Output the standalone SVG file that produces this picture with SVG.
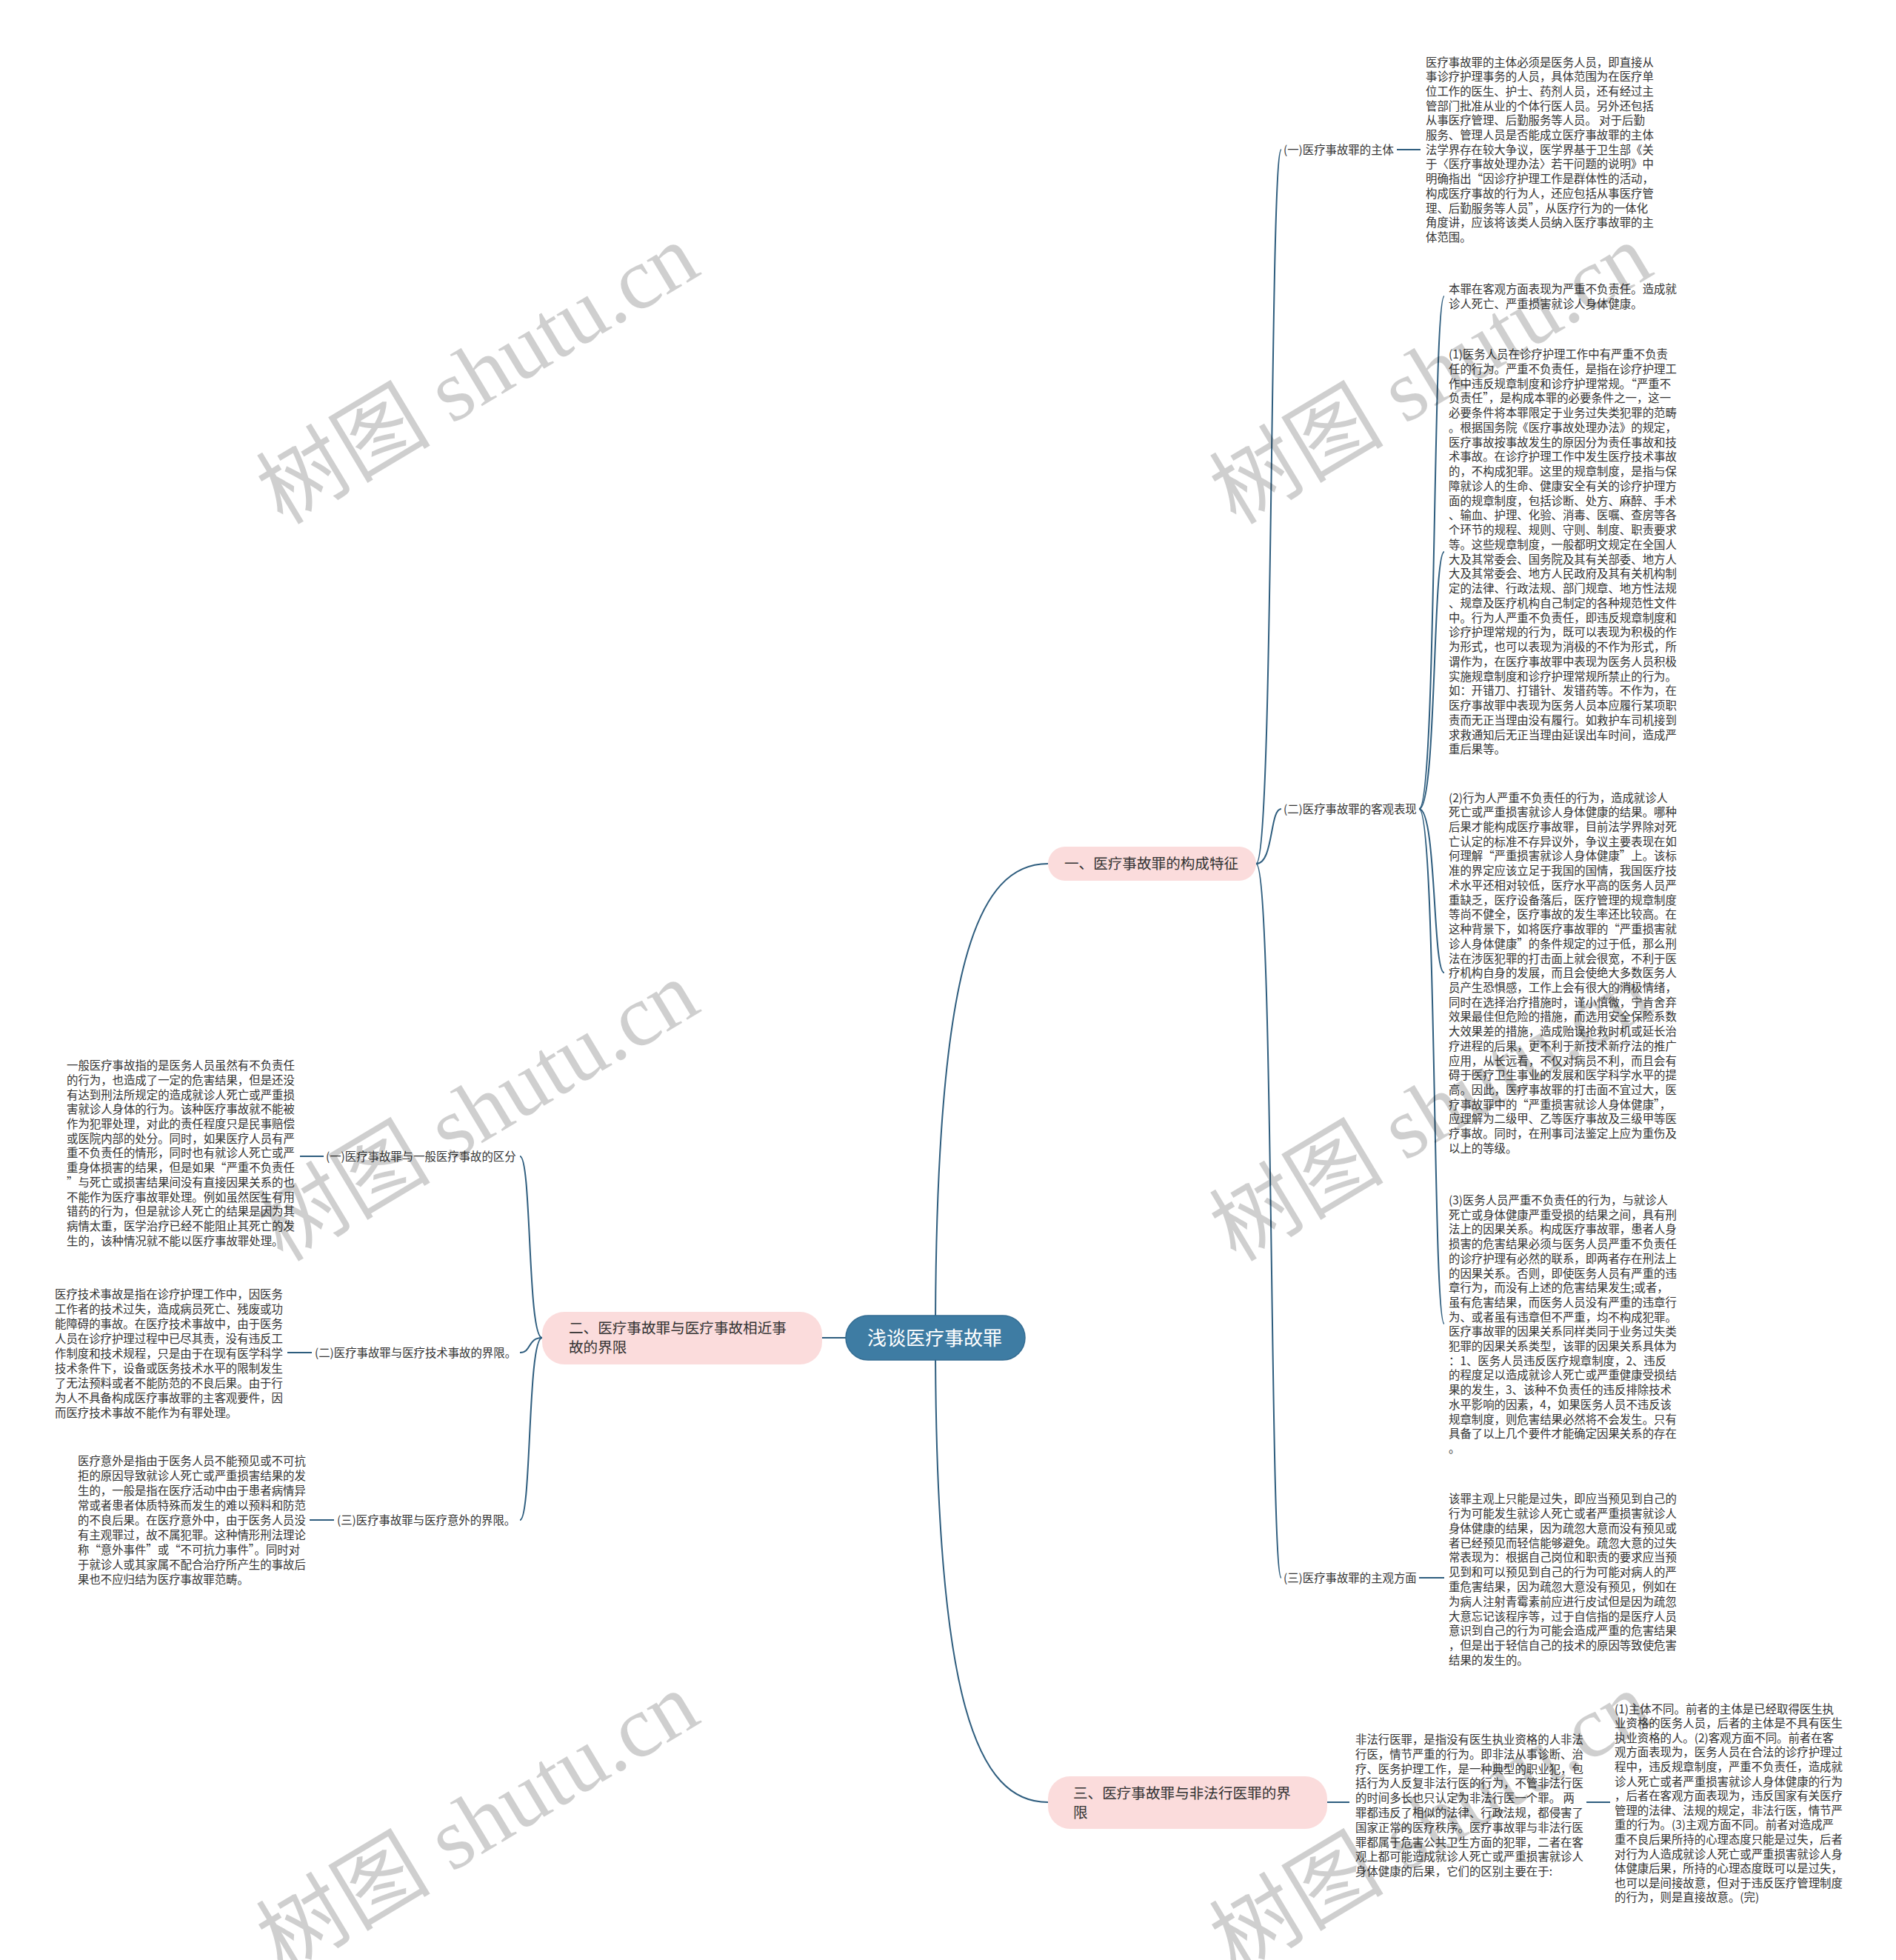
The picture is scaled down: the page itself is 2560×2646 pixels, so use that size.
<svg xmlns="http://www.w3.org/2000/svg" width="2560" height="2646" viewBox="0 0 2560 2646">
<style>
.t{font-family:"Noto Sans CJK SC","Liberation Sans",sans-serif;font-size:15.4px;fill:#333}
.n{font-family:"Noto Sans CJK SC","Liberation Sans",sans-serif;font-size:19.6px;fill:#333}
.c{font-family:"Noto Sans CJK SC","Liberation Sans",sans-serif;font-size:26px;fill:#fff}
.pk{fill:#fbdcdc}
.conn path{fill:none;stroke:#2e5d7e;stroke-width:2}
.wm{font-family:"Liberation Serif","Noto Sans CJK SC",serif;font-size:118px;fill:#000;fill-opacity:0.19;text-anchor:middle}
</style>
<rect width="2560" height="2646" fill="#fff"/>
<g class="conn" id="connectors">
<path d="M1263,1806 C1263,1300 1320,1166 1415,1166"/>
<path d="M1263,1806 C1263,2300 1320,2433 1415,2433"/>
<path d="M1142,1806 H1110"/>
<path d="M1696,1166 C1720,1166 1714,202 1730,202"/>
<path d="M1696,1166 C1720,1166 1714,1092 1730,1092"/>
<path d="M1696,1166 C1720,1166 1714,2130 1730,2130"/>
<path d="M1886,202 H1918"/>
<path d="M1916,1092 C1940,1092 1934,400 1950,400"/>
<path d="M1916,1092 C1940,1092 1934,745 1950,745"/>
<path d="M1916,1092 C1940,1092 1934,1313 1950,1313"/>
<path d="M1916,1092 C1940,1092 1934,1787 1950,1787"/>
<path d="M1916,2130 H1950"/>
<path d="M1792,2433 H1822"/>
<path d="M2142,2433 H2174"/>
<path d="M732,1806 C712,1806 718,1561 702,1561"/>
<path d="M732,1806 C712,1806 718,1826 702,1826"/>
<path d="M732,1806 C712,1806 718,2052 702,2052"/>
<path d="M437,1561 H405"/>
<path d="M421,1826 H388"/>
<path d="M451,2052 H418"/>
</g>
<g id="root">
<rect x="1142" y="1776" width="242" height="60" rx="30" fill="#3e7ca3" stroke="#336c92" stroke-width="1.5"/>
<text class="c" x="1171" y="1816">浅谈医疗事故罪</text>
</g>
<g id="n1">
<rect class="pk" x="1415" y="1143" width="281" height="46" rx="23"/>
<text class="n" x="1437" y="1173">一、医疗事故罪的构成特征</text>
</g>
<g id="n2">
<rect class="pk" x="732" y="1771" width="378" height="71" rx="30"/>
<text class="n" x="768" y="1800">二、医疗事故罪与医疗事故相近事<tspan x="768" dy="26">故的界限</tspan></text>
</g>
<g id="n3">
<rect class="pk" x="1415" y="2398" width="377" height="71" rx="30"/>
<text class="n" x="1449" y="2428">三、医疗事故罪与非法行医罪的界<tspan x="1449" dy="26">限</tspan></text>
</g>
<g id="l1a"><text class="t" x="1733" y="208">(一)医疗事故罪的主体</text></g>
<g id="l1b"><text class="t" x="1733" y="1098">(二)医疗事故罪的客观表现</text></g>
<g id="l1c"><text class="t" x="1733" y="2136">(三)医疗事故罪的主观方面</text></g>
<g id="l2a"><text class="t" x="440" y="1567">(一)医疗事故罪与一般医疗事故的区分</text></g>
<g id="l2b"><text class="t" x="425" y="1832">(二)医疗事故罪与医疗技术事故的界限。</text></g>
<g id="l2c"><text class="t" x="455" y="2058">(三)医疗事故罪与医疗意外的界限。</text></g>
<g id="bA"><text class="t" x="1925" y="89.5"><tspan x="1925" dy="0">医疗事故罪的主体必须是医务人员，即直接从</tspan><tspan x="1925" dy="19.7">事诊疗护理事务的人员，具体范围为在医疗单</tspan><tspan x="1925" dy="19.7">位工作的医生、护士、药剂人员，还有经过主</tspan><tspan x="1925" dy="19.7">管部门批准从业的个体行医人员。另外还包括</tspan><tspan x="1925" dy="19.7">从事医疗管理、后勤服务等人员。 对于后勤</tspan><tspan x="1925" dy="19.7">服务、管理人员是否能成立医疗事故罪的主体</tspan><tspan x="1925" dy="19.7">法学界存在较大争议，医学界基于卫生部《关</tspan><tspan x="1925" dy="19.7">于〈医疗事故处理办法〉若干问题的说明》中</tspan><tspan x="1925" dy="19.7">明确指出“因诊疗护理工作是群体性的活动，</tspan><tspan x="1925" dy="19.7">构成医疗事故的行为人，还应包括从事医疗管</tspan><tspan x="1925" dy="19.7">理、后勤服务等人员”，从医疗行为的一体化</tspan><tspan x="1925" dy="19.7">角度讲，应该将该类人员纳入医疗事故罪的主</tspan><tspan x="1925" dy="19.7">体范围。</tspan></text></g>
<g id="bB0"><text class="t" x="1956" y="396"><tspan x="1956" dy="0">本罪在客观方面表现为严重不负责任。造成就</tspan><tspan x="1956" dy="19.7">诊人死亡、严重损害就诊人身体健康。</tspan></text></g>
<g id="bB1"><text class="t" x="1956" y="484"><tspan x="1956" dy="0">(1)医务人员在诊疗护理工作中有严重不负责</tspan><tspan x="1956" dy="19.75">任的行为。严重不负责任，是指在诊疗护理工</tspan><tspan x="1956" dy="19.75">作中违反规章制度和诊疗护理常规。“严重不</tspan><tspan x="1956" dy="19.75">负责任”，是构成本罪的必要条件之一，这一</tspan><tspan x="1956" dy="19.75">必要条件将本罪限定于业务过失类犯罪的范畴</tspan><tspan x="1956" dy="19.75">。根据国务院《医疗事故处理办法》的规定，</tspan><tspan x="1956" dy="19.75">医疗事故按事故发生的原因分为责任事故和技</tspan><tspan x="1956" dy="19.75">术事故。在诊疗护理工作中发生医疗技术事故</tspan><tspan x="1956" dy="19.75">的，不构成犯罪。这里的规章制度，是指与保</tspan><tspan x="1956" dy="19.75">障就诊人的生命、健康安全有关的诊疗护理方</tspan><tspan x="1956" dy="19.75">面的规章制度，包括诊断、处方、麻醉、手术</tspan><tspan x="1956" dy="19.75">、输血、护理、化验、消毒、医嘱、查房等各</tspan><tspan x="1956" dy="19.75">个环节的规程、规则、守则、制度、职责要求</tspan><tspan x="1956" dy="19.75">等。这些规章制度，一般都明文规定在全国人</tspan><tspan x="1956" dy="19.75">大及其常委会、国务院及其有关部委、地方人</tspan><tspan x="1956" dy="19.75">大及其常委会、地方人民政府及其有关机构制</tspan><tspan x="1956" dy="19.75">定的法律、行政法规、部门规章、地方性法规</tspan><tspan x="1956" dy="19.75">、规章及医疗机构自己制定的各种规范性文件</tspan><tspan x="1956" dy="19.75">中。行为人严重不负责任，即违反规章制度和</tspan><tspan x="1956" dy="19.75">诊疗护理常规的行为，既可以表现为积极的作</tspan><tspan x="1956" dy="19.75">为形式，也可以表现为消极的不作为形式，所</tspan><tspan x="1956" dy="19.75">谓作为，在医疗事故罪中表现为医务人员积极</tspan><tspan x="1956" dy="19.75">实施规章制度和诊疗护理常规所禁止的行为。</tspan><tspan x="1956" dy="19.75">如：开错刀、打错针、发错药等。不作为，在</tspan><tspan x="1956" dy="19.75">医疗事故罪中表现为医务人员本应履行某项职</tspan><tspan x="1956" dy="19.75">责而无正当理由没有履行。如救护车司机接到</tspan><tspan x="1956" dy="19.75">求救通知后无正当理由延误出车时间，造成严</tspan><tspan x="1956" dy="19.75">重后果等。</tspan></text></g>
<g id="bB2"><text class="t" x="1956" y="1082.6"><tspan x="1956" dy="0">(2)行为人严重不负责任的行为，造成就诊人</tspan><tspan x="1956" dy="19.72">死亡或严重损害就诊人身体健康的结果。哪种</tspan><tspan x="1956" dy="19.72">后果才能构成医疗事故罪，目前法学界除对死</tspan><tspan x="1956" dy="19.72">亡认定的标准不存异议外，争议主要表现在如</tspan><tspan x="1956" dy="19.72">何理解“严重损害就诊人身体健康”上。该标</tspan><tspan x="1956" dy="19.72">准的界定应该立足于我国的国情，我国医疗技</tspan><tspan x="1956" dy="19.72">术水平还相对较低，医疗水平高的医务人员严</tspan><tspan x="1956" dy="19.72">重缺乏，医疗设备落后，医疗管理的规章制度</tspan><tspan x="1956" dy="19.72">等尚不健全，医疗事故的发生率还比较高。在</tspan><tspan x="1956" dy="19.72">这种背景下，如将医疗事故罪的“严重损害就</tspan><tspan x="1956" dy="19.72">诊人身体健康”的条件规定的过于低，那么刑</tspan><tspan x="1956" dy="19.72">法在涉医犯罪的打击面上就会很宽，不利于医</tspan><tspan x="1956" dy="19.72">疗机构自身的发展，而且会使绝大多数医务人</tspan><tspan x="1956" dy="19.72">员产生恐惧感，工作上会有很大的消极情绪，</tspan><tspan x="1956" dy="19.72">同时在选择治疗措施时，谨小慎微，宁肯舍弃</tspan><tspan x="1956" dy="19.72">效果最佳但危险的措施，而选用安全保险系数</tspan><tspan x="1956" dy="19.72">大效果差的措施，造成贻误抢救时机或延长治</tspan><tspan x="1956" dy="19.72">疗进程的后果，更不利于新技术新疗法的推广</tspan><tspan x="1956" dy="19.72">应用，从长远看，不仅对病员不利，而且会有</tspan><tspan x="1956" dy="19.72">碍于医疗卫生事业的发展和医学科学水平的提</tspan><tspan x="1956" dy="19.72">高。因此，医疗事故罪的打击面不宜过大，医</tspan><tspan x="1956" dy="19.72">疗事故罪中的“严重损害就诊人身体健康”，</tspan><tspan x="1956" dy="19.72">应理解为二级甲、乙等医疗事故及三级甲等医</tspan><tspan x="1956" dy="19.72">疗事故。同时，在刑事司法鉴定上应为重伤及</tspan><tspan x="1956" dy="19.72">以上的等级。</tspan></text></g>
<g id="bB3"><text class="t" x="1956" y="1626"><tspan x="1956" dy="0">(3)医务人员严重不负责任的行为，与就诊人</tspan><tspan x="1956" dy="19.7">死亡或身体健康严重受损的结果之间，具有刑</tspan><tspan x="1956" dy="19.7">法上的因果关系。构成医疗事故罪，患者人身</tspan><tspan x="1956" dy="19.7">损害的危害结果必须与医务人员严重不负责任</tspan><tspan x="1956" dy="19.7">的诊疗护理有必然的联系，即两者存在刑法上</tspan><tspan x="1956" dy="19.7">的因果关系。否则，即使医务人员有严重的违</tspan><tspan x="1956" dy="19.7">章行为，而没有上述的危害结果发生;或者，</tspan><tspan x="1956" dy="19.7">虽有危害结果，而医务人员没有严重的违章行</tspan><tspan x="1956" dy="19.7">为、或者虽有违章但不严重，均不构成犯罪。</tspan><tspan x="1956" dy="19.7">医疗事故罪的因果关系同样类同于业务过失类</tspan><tspan x="1956" dy="19.7">犯罪的因果关系类型，该罪的因果关系具体为</tspan><tspan x="1956" dy="19.7">：1、医务人员违反医疗规章制度，2、违反</tspan><tspan x="1956" dy="19.7">的程度足以造成就诊人死亡或严重健康受损结</tspan><tspan x="1956" dy="19.7">果的发生，3、该种不负责任的违反排除技术</tspan><tspan x="1956" dy="19.7">水平影响的因素，4，如果医务人员不违反该</tspan><tspan x="1956" dy="19.7">规章制度，则危害结果必然将不会发生。只有</tspan><tspan x="1956" dy="19.7">具备了以上几个要件才能确定因果关系的存在</tspan><tspan x="1956" dy="19.7">。</tspan></text></g>
<g id="bC"><text class="t" x="1956" y="2029.2"><tspan x="1956" dy="0">该罪主观上只能是过失，即应当预见到自己的</tspan><tspan x="1956" dy="19.8">行为可能发生就诊人死亡或者严重损害就诊人</tspan><tspan x="1956" dy="19.8">身体健康的结果，因为疏忽大意而没有预见或</tspan><tspan x="1956" dy="19.8">者已经预见而轻信能够避免。疏忽大意的过失</tspan><tspan x="1956" dy="19.8">常表现为：根据自己岗位和职责的要求应当预</tspan><tspan x="1956" dy="19.8">见到和可以预见到自己的行为可能对病人的严</tspan><tspan x="1956" dy="19.8">重危害结果，因为疏忽大意没有预见，例如在</tspan><tspan x="1956" dy="19.8">为病人注射青霉素前应进行皮试但是因为疏忽</tspan><tspan x="1956" dy="19.8">大意忘记该程序等，过于自信指的是医疗人员</tspan><tspan x="1956" dy="19.8">意识到自己的行为可能会造成严重的危害结果</tspan><tspan x="1956" dy="19.8">，但是出于轻信自己的技术的原因等致使危害</tspan><tspan x="1956" dy="19.8">结果的发生的。</tspan></text></g>
<g id="bD1"><text class="t" x="1830" y="2354"><tspan x="1830" dy="0">非法行医罪，是指没有医生执业资格的人非法</tspan><tspan x="1830" dy="19.8">行医，情节严重的行为。即非法从事诊断、治</tspan><tspan x="1830" dy="19.8">疗、医务护理工作，是一种典型的职业犯，包</tspan><tspan x="1830" dy="19.8">括行为人反复非法行医的行为，不管非法行医</tspan><tspan x="1830" dy="19.8">的时间多长也只认定为非法行医一个罪。 两</tspan><tspan x="1830" dy="19.8">罪都违反了相似的法律、行政法规，都侵害了</tspan><tspan x="1830" dy="19.8">国家正常的医疗秩序。医疗事故罪与非法行医</tspan><tspan x="1830" dy="19.8">罪都属于危害公共卫生方面的犯罪，二者在客</tspan><tspan x="1830" dy="19.8">观上都可能造成就诊人死亡或严重损害就诊人</tspan><tspan x="1830" dy="19.8">身体健康的后果，它们的区别主要在于:</tspan></text></g>
<g id="bD2"><text class="t" x="2180" y="2312.6"><tspan x="2180" dy="0">(1)主体不同。前者的主体是已经取得医生执</tspan><tspan x="2180" dy="19.6">业资格的医务人员，后者的主体是不具有医生</tspan><tspan x="2180" dy="19.6">执业资格的人。(2)客观方面不同。前者在客</tspan><tspan x="2180" dy="19.6">观方面表现为，医务人员在合法的诊疗护理过</tspan><tspan x="2180" dy="19.6">程中，违反规章制度，严重不负责任，造成就</tspan><tspan x="2180" dy="19.6">诊人死亡或者严重损害就诊人身体健康的行为</tspan><tspan x="2180" dy="19.6">，后者在客观方面表现为，违反国家有关医疗</tspan><tspan x="2180" dy="19.6">管理的法律、法规的规定，非法行医，情节严</tspan><tspan x="2180" dy="19.6">重的行为。(3)主观方面不同。前者对造成严</tspan><tspan x="2180" dy="19.6">重不良后果所持的心理态度只能是过失，后者</tspan><tspan x="2180" dy="19.6">对行为人造成就诊人死亡或严重损害就诊人身</tspan><tspan x="2180" dy="19.6">体健康后果，所持的心理态度既可以是过失，</tspan><tspan x="2180" dy="19.6">也可以是间接故意，但对于违反医疗管理制度</tspan><tspan x="2180" dy="19.6">的行为，则是直接故意。(完)</tspan></text></g>
<g id="bL1"><text class="t" x="90" y="1444.2"><tspan x="90" dy="0">一般医疗事故指的是医务人员虽然有不负责任</tspan><tspan x="90" dy="19.7">的行为，也造成了一定的危害结果，但是还没</tspan><tspan x="90" dy="19.7">有达到刑法所规定的造成就诊人死亡或严重损</tspan><tspan x="90" dy="19.7">害就诊人身体的行为。该种医疗事故就不能被</tspan><tspan x="90" dy="19.7">作为犯罪处理，对此的责任程度只是民事赔偿</tspan><tspan x="90" dy="19.7">或医院内部的处分。同时，如果医疗人员有严</tspan><tspan x="90" dy="19.7">重不负责任的情形，同时也有就诊人死亡或严</tspan><tspan x="90" dy="19.7">重身体损害的结果，但是如果“严重不负责任</tspan><tspan x="90" dy="19.7">”与死亡或损害结果间没有直接因果关系的也</tspan><tspan x="90" dy="19.7">不能作为医疗事故罪处理。例如虽然医生有用</tspan><tspan x="90" dy="19.7">错药的行为，但是就诊人死亡的结果是因为其</tspan><tspan x="90" dy="19.7">病情太重，医学治疗已经不能阻止其死亡的发</tspan><tspan x="90" dy="19.7">生的，该种情况就不能以医疗事故罪处理。</tspan></text></g>
<g id="bL2"><text class="t" x="74" y="1752.6"><tspan x="74" dy="0">医疗技术事故是指在诊疗护理工作中，因医务</tspan><tspan x="74" dy="20">工作者的技术过失，造成病员死亡、残废或功</tspan><tspan x="74" dy="20">能障碍的事故。在医疗技术事故中，由于医务</tspan><tspan x="74" dy="20">人员在诊疗护理过程中已尽其责，没有违反工</tspan><tspan x="74" dy="20">作制度和技术规程，只是由于在现有医学科学</tspan><tspan x="74" dy="20">技术条件下，设备或医务技术水平的限制发生</tspan><tspan x="74" dy="20">了无法预料或者不能防范的不良后果。由于行</tspan><tspan x="74" dy="20">为人不具备构成医疗事故罪的主客观要件，因</tspan><tspan x="74" dy="20">而医疗技术事故不能作为有罪处理。</tspan></text></g>
<g id="bL3"><text class="t" x="105" y="1977.6"><tspan x="105" dy="0">医疗意外是指由于医务人员不能预见或不可抗</tspan><tspan x="105" dy="20">拒的原因导致就诊人死亡或严重损害结果的发</tspan><tspan x="105" dy="20">生的，一般是指在医疗活动中由于患者病情异</tspan><tspan x="105" dy="20">常或者患者体质特殊而发生的难以预料和防范</tspan><tspan x="105" dy="20">的不良后果。在医疗意外中，由于医务人员没</tspan><tspan x="105" dy="20">有主观罪过，故不属犯罪。这种情形刑法理论</tspan><tspan x="105" dy="20">称“意外事件”或“不可抗力事件”。同时对</tspan><tspan x="105" dy="20">于就诊人或其家属不配合治疗所产生的事故后</tspan><tspan x="105" dy="20">果也不应归结为医疗事故罪范畴。</tspan></text></g>
<g id="watermarks">
<text class="wm" transform="translate(645,505) rotate(-31)" y="40">树图 shutu.cn</text>
<text class="wm" transform="translate(1932,505) rotate(-31)" y="40">树图 shutu.cn</text>
<text class="wm" transform="translate(645,1500) rotate(-31)" y="40">树图 shutu.cn</text>
<text class="wm" transform="translate(1932,1500) rotate(-31)" y="40">树图 shutu.cn</text>
<text class="wm" transform="translate(645,2460) rotate(-31)" y="40">树图 shutu.cn</text>
<text class="wm" transform="translate(1932,2460) rotate(-31)" y="40">树图 shutu.cn</text>
</g>
</svg>
